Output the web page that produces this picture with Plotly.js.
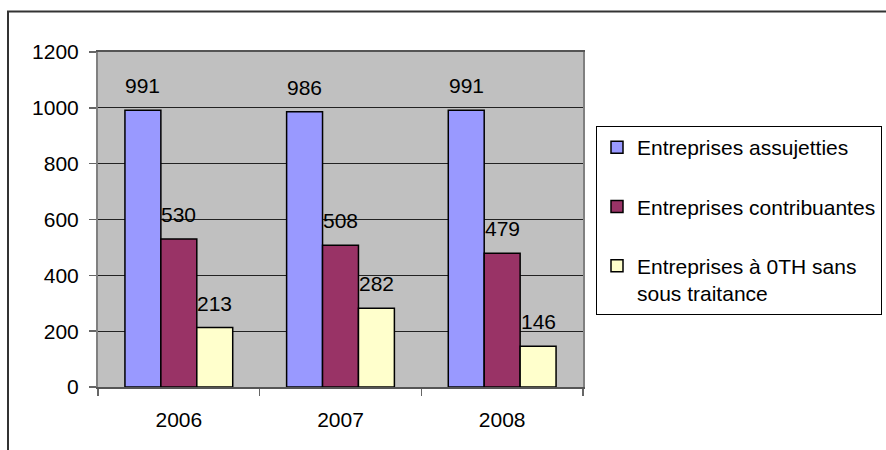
<!DOCTYPE html>
<html>
<head>
<meta charset="utf-8">
<script src="https://cdn.plot.ly/plotly-3.0.1.min.js"></script>
<style>html,body{margin:0;padding:0;background:#fff;}#chart{width:886px;height:450px;}</style>
</head>
<body>
<div id="chart"></div>
<script>
// ---- data ----
var years = ["2006", "2007", "2008"];
var seriesNames = ["Entreprises assujetties", "Entreprises contribuantes", "Entreprises à 0TH sans<br>sous traitance"];
var assujetties = [991, 986, 991];
var contribuantes = [530, 508, 479];
var zeroTH = [213, 282, 146];
var yTicks = [0, 200, 400, 600, 800, 1000, 1200];

var seriesValues = [assujetties, contribuantes, zeroTH];
var colors = ["#9999FF", "#993366", "#FFFFCC"];
var FONT = "Liberation Sans, Arial, sans-serif";
var FS = 21;

// plot-area geometry (pixels)
var W = 886, H = 450;
var L = 98, R = 303, T = 52, B = 63;
var pw = W - L - R, ph = H - T - B;
function px2paperX(px) { return (px - L) / pw; }
function px2paperY(py) { return (H - B - py) / ph; }

var bargap = 1 / 3;
var barW = (1 - bargap) / seriesValues.length;

var traces = seriesValues.map(function (vals, i) {
  return {
    type: "bar",
    name: seriesNames[i],
    legendgroup: "g" + i,
    x: years,
    y: vals,
    marker: { color: colors[i], line: { color: "#000", width: 1.5 } },
    hoverinfo: "skip"
  };
});

var annotations = [];
seriesValues.forEach(function (vals, s) {
  vals.forEach(function (v, c) {
    annotations.push({
      x: c + (s - (seriesValues.length - 1) / 2) * barW,
      y: v,
      xref: "x", yref: "y",
      text: String(v),
      showarrow: false,
      yanchor: "bottom",
      yshift: 11,
      font: { family: FONT, size: FS, color: "#000" }
    });
  });
});

var layout = {
  width: W, height: H,
  margin: { l: L, r: R, t: T, b: B, autoexpand: false },
  paper_bgcolor: "#fff",
  plot_bgcolor: "#C0C0C0",
  barmode: "group",
  bargap: bargap,
  bargroupgap: 0,
  font: { family: FONT, size: FS, color: "#000" },
  xaxis: {
    type: "category",
    showgrid: false,
    showline: true, linecolor: "#555", linewidth: 2, mirror: true,
    ticks: "outside", tickson: "boundaries", ticklen: 7, tickcolor: "#666", tickwidth: 1.5,
    ticklabelstandoff: 13,
    tickfont: { family: FONT, size: FS }
  },
  yaxis: {
    range: [0, 1200],
    tickvals: yTicks,
    ticktext: yTicks.map(String),
    showgrid: true, gridcolor: "#222", gridwidth: 1,
    zeroline: false,
    showline: true, linecolor: "#808080", linewidth: 2, mirror: true,
    ticks: "outside", ticklen: 7, tickcolor: "#666", tickwidth: 1.5,
    ticklabelstandoff: 6,
    tickfont: { family: FONT, size: FS }
  },
  legend: {
    x: px2paperX(596), xanchor: "left",
    y: px2paperY(126), yanchor: "top",
    bgcolor: "#fff", bordercolor: "#000", borderwidth: 1,
    font: { family: FONT, size: FS },
    tracegroupgap: 29,
    valign: "top",
    itemwidth: 30
  },
  showlegend: true,
  annotations: annotations,
  shapes: [{
    type: "rect", xref: "paper", yref: "paper",
    x0: px2paperX(8), x1: px2paperX(W + 20),
    y0: px2paperY(H + 20), y1: px2paperY(11.5),
    line: { color: "#333", width: 2 }, fillcolor: "rgba(0,0,0,0)", layer: "below"
  }]
};

Plotly.newPlot("chart", traces, layout, { staticPlot: true, displayModeBar: false });
</script>
</body>
</html>
